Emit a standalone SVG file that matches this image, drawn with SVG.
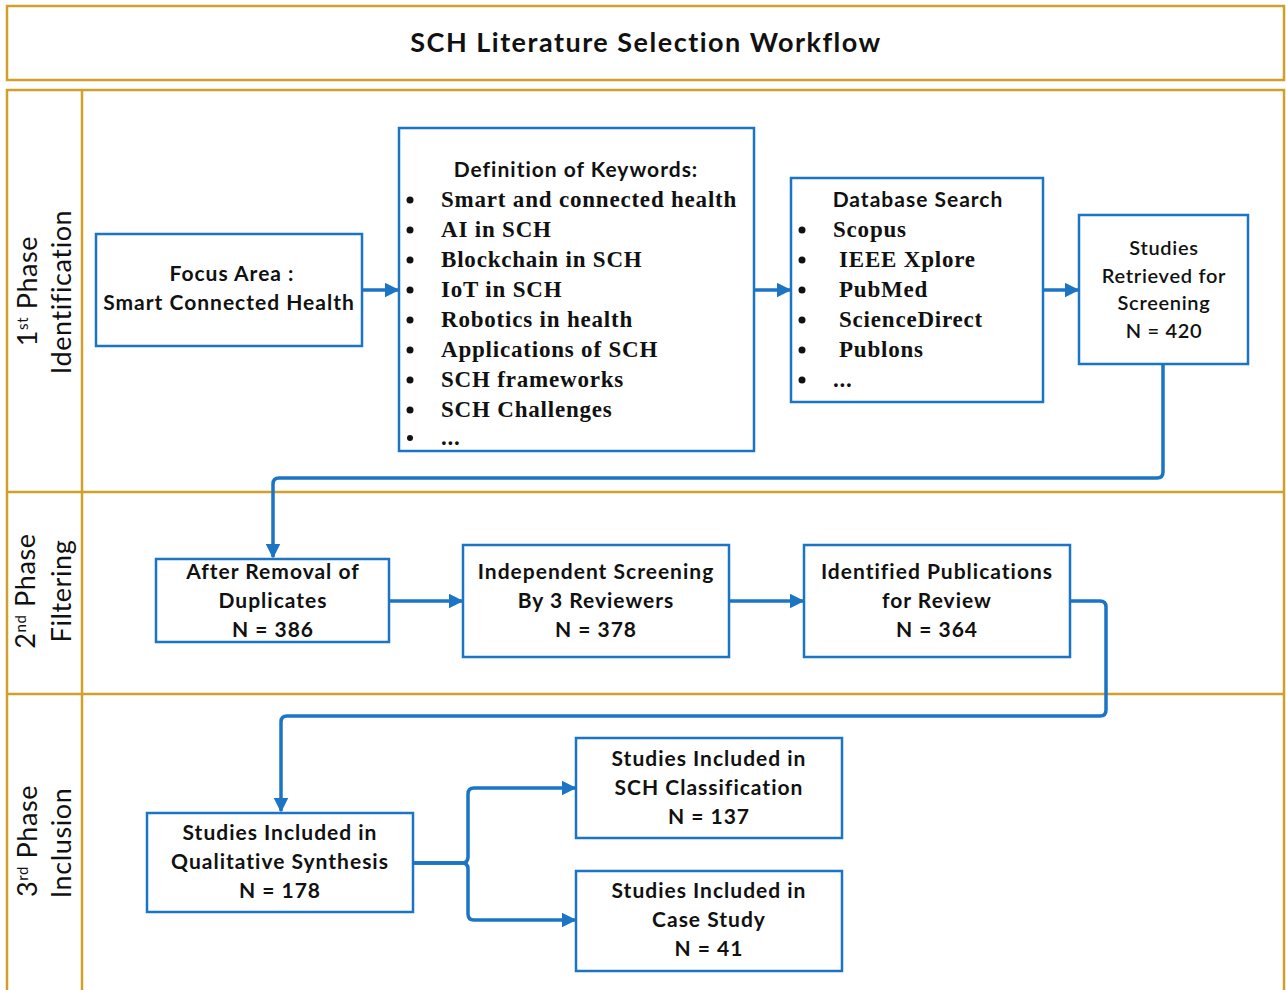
<svg xmlns="http://www.w3.org/2000/svg" width="1286" height="990" viewBox="0 0 1286 990">
<style>
.frame{fill:none;stroke:#D39F2B;stroke-width:2.5}
.box{fill:#fff;stroke:#1B75C4;stroke-width:2.5}
.conn{fill:none;stroke:#1B75C4;stroke-width:3.5}
.cal{font-family:Lato,"Open Sans",sans-serif;font-weight:bold;font-size:21px;letter-spacing:1px;fill:#111;text-anchor:middle}
.calr{font-family:Lato,"Open Sans",sans-serif;font-weight:600;font-size:20px;letter-spacing:0.7px;fill:#111;text-anchor:middle}
.ser{font-family:"Liberation Serif","Times New Roman",serif;font-weight:bold;font-size:23px;fill:#111;letter-spacing:0.8px}
.bul{fill:#111}
.phase{font-family:Lato,"Open Sans",sans-serif;font-size:27px;letter-spacing:0.6px;fill:#111;text-anchor:middle}
.title{font-family:Lato,"Open Sans",sans-serif;font-weight:bold;font-size:27px;letter-spacing:1.5px;fill:#111;text-anchor:middle}
</style>
<defs>
<marker id="arr" viewBox="0 0 10 10" refX="9" refY="5" markerUnits="userSpaceOnUse" markerWidth="15" markerHeight="15" orient="auto">
<path d="M0,0 L10,5 L0,10 z" fill="#1B75C4"/>
</marker>
</defs>
<rect width="1286" height="990" fill="#fff"/>
<g id="frame">
<rect class="frame" x="7" y="6" width="1277" height="74"/>
<rect class="frame" x="7" y="90" width="1277" height="910"/>
<line class="frame" x1="82" y1="90" x2="82" y2="990"/>
<line class="frame" x1="7" y1="492" x2="1284" y2="492"/>
<line class="frame" x1="7" y1="694" x2="1284" y2="694"/>
<text class="title" x="646" y="52">SCH Literature Selection Workflow</text>
</g>
<g id="phase1">
<text class="phase" transform="translate(37,291) rotate(-90)">1<tspan font-size="15" baseline-shift="super">st</tspan> Phase</text>
<text class="phase" transform="translate(71,292) rotate(-90)">Identification</text>
</g>
<g id="phase2">
<text class="phase" transform="translate(35,591) rotate(-90)">2<tspan font-size="15" baseline-shift="super">nd</tspan>  Phase</text>
<text class="phase" transform="translate(71,591) rotate(-90)">Filtering</text>
</g>
<g id="phase3">
<text class="phase" transform="translate(37,841) rotate(-90)">3<tspan font-size="15" baseline-shift="super">rd</tspan>  Phase</text>
<text class="phase" transform="translate(71,843) rotate(-90)">Inclusion</text>
</g>
<g id="connectors">
<line class="conn" x1="362" y1="290" x2="398" y2="290" marker-end="url(#arr)"/>
<line class="conn" x1="754" y1="290" x2="790" y2="290" marker-end="url(#arr)"/>
<line class="conn" x1="1043" y1="290" x2="1078" y2="290" marker-end="url(#arr)"/>
<path class="conn" d="M1163,364 V472 Q1163,478 1157,478 H279 Q273,478 273,484 V557" marker-end="url(#arr)"/>
<line class="conn" x1="389" y1="601" x2="462" y2="601" marker-end="url(#arr)"/>
<line class="conn" x1="729" y1="601" x2="803" y2="601" marker-end="url(#arr)"/>
<path class="conn" d="M1070,601 H1100 Q1106,601 1106,607 V710 Q1106,716 1100,716 H287 Q281,716 281,722 V811" marker-end="url(#arr)"/>
<path class="conn" d="M413,863 H462 Q468,863 468,857 V794 Q468,788 474,788 H575" marker-end="url(#arr)"/>
<path class="conn" d="M413,863 H462 Q468,863 468,869 V914 Q468,920 474,920 H575" marker-end="url(#arr)"/>
</g>
<g id="focus">
<rect class="box" x="96" y="234" width="266" height="112"/>
<text class="cal" x="232" y="281">Focus Area :</text>
<text class="cal" x="229" y="310">Smart Connected Health</text>
</g>
<g id="keywords">
<rect class="box" x="399" y="128" width="355" height="323"/>
<text class="cal" x="576" y="177">Definition of Keywords:</text>
<g class="bul">
<circle cx="410" cy="200" r="3.5"/><circle cx="410" cy="230" r="3.5"/><circle cx="410" cy="260" r="3.5"/><circle cx="410" cy="290" r="3.5"/><circle cx="410" cy="320" r="3.5"/><circle cx="410" cy="350" r="3.5"/><circle cx="410" cy="380" r="3.5"/><circle cx="410" cy="410" r="3.5"/><circle cx="410" cy="438" r="3"/>
</g>
<text class="ser" x="441" y="207">Smart and connected health</text>
<text class="ser" x="441" y="237">AI in SCH</text>
<text class="ser" x="441" y="267">Blockchain in SCH</text>
<text class="ser" x="441" y="297">IoT in SCH</text>
<text class="ser" x="441" y="327">Robotics in health</text>
<text class="ser" x="441" y="357">Applications of SCH</text>
<text class="ser" x="441" y="387">SCH frameworks</text>
<text class="ser" x="441" y="417">SCH Challenges</text>
<text class="ser" x="441" y="445">...</text>
</g>
<g id="database">
<rect class="box" x="791" y="178" width="252" height="224"/>
<text class="cal" x="918" y="207">Database Search</text>
<g class="bul">
<circle cx="802" cy="230" r="3.5"/><circle cx="802" cy="260" r="3.5"/><circle cx="802" cy="290" r="3.5"/><circle cx="802" cy="320" r="3.5"/><circle cx="802" cy="350" r="3.5"/><circle cx="802" cy="380" r="3.5"/>
</g>
<text class="ser" x="833" y="237">Scopus</text>
<text class="ser" x="839" y="267">IEEE Xplore</text>
<text class="ser" x="839" y="297">PubMed</text>
<text class="ser" x="839" y="327">ScienceDirect</text>
<text class="ser" x="839" y="357">Publons</text>
<text class="ser" x="833" y="387">...</text>
</g>
<g id="retrieved">
<rect class="box" x="1079" y="215" width="169" height="149"/>
<text class="calr" x="1164" y="255">Studies</text>
<text class="calr" x="1164" y="283">Retrieved for</text>
<text class="calr" x="1164" y="310">Screening</text>
<text class="calr" x="1164" y="338">N = 420</text>
</g>
<g id="duplicates">
<rect class="box" x="156" y="559" width="233" height="83"/>
<text class="cal" x="273" y="579">After Removal of</text>
<text class="cal" x="273" y="608">Duplicates</text>
<text class="cal" x="273" y="637">N = 386</text>
</g>
<g id="screening">
<rect class="box" x="463" y="545" width="266" height="112"/>
<text class="cal" x="596" y="579">Independent Screening</text>
<text class="cal" x="596" y="608">By  3 Reviewers</text>
<text class="cal" x="596" y="637">N = 378</text>
</g>
<g id="identified">
<rect class="box" x="804" y="545" width="266" height="112"/>
<text class="cal" x="937" y="579">Identified Publications</text>
<text class="cal" x="937" y="608">for Review</text>
<text class="cal" x="937" y="637">N = 364</text>
</g>
<g id="qualitative">
<rect class="box" x="147" y="813" width="266" height="99"/>
<text class="cal" x="280" y="840">Studies Included in</text>
<text class="cal" x="280" y="869">Qualitative Synthesis</text>
<text class="cal" x="280" y="898">N = 178</text>
</g>
<g id="classification">
<rect class="box" x="576" y="738" width="266" height="100"/>
<text class="cal" x="709" y="766">Studies Included in</text>
<text class="cal" x="709" y="795">SCH Classification</text>
<text class="cal" x="709" y="824">N = 137</text>
</g>
<g id="casestudy">
<rect class="box" x="576" y="871" width="266" height="100"/>
<text class="cal" x="709" y="898">Studies Included in</text>
<text class="cal" x="709" y="927">Case Study</text>
<text class="cal" x="709" y="956">N = 41</text>
</g>
</svg>
